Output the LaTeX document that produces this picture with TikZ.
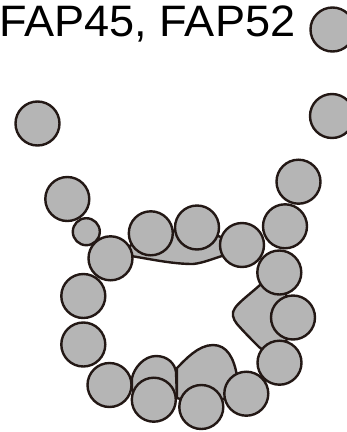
\documentclass[tikz,border=0pt]{standalone}
\usepackage{fontspec}
\setmainfont{Liberation Sans}
\definecolor{beadline}{HTML}{231815}
\definecolor{beadgray}{HTML}{B5B5B5}

\begin{document}
\begin{tikzpicture}[x=1pt, y=-1pt,
			bead/.style={circle, draw=beadline, fill=beadgray, line width=2.4pt, minimum size=#1, inner sep=0pt},
			bead/.default=44pt,
			blob/.style={draw=beadline, fill=beadgray, line width=2.4pt, line join=round}]
			%Rahmen
			\useasboundingbox (0,0) rectangle (347,432);
			%Titel
			\node[anchor=base west, inner sep=0pt, xscale=1.025, font=\fontsize{44}{44}\selectfont] (title) at (-0.8,36.5) {FAP45, FAP52};
			%Dichte unter den Kugeln
			\draw[blob] (110,258) -- (131,256) .. controls (150,259) and (172,264) .. (193,264) .. controls (203,263) and (212,259) .. (222,256) -- (242,245) -- (197,228) -- (151,233) -- cycle;
			\draw[blob] (141,396) -- (132,390) -- (132,378) .. controls (134,368) and (144,356) .. (156,356) .. controls (168,356) and (175,364) .. (176,372) -- (177,398) -- cycle;
			\draw[blob] (200,405) -- (177,398) -- (177,368) .. controls (185,360) and (198,345) .. (213,345) .. controls (227,345) and (234,358) .. (237,376) -- (240,395) -- cycle;
			\draw[blob] (279,272) -- (260,285) .. controls (250,294) and (239,302) .. (235,308) .. controls (231,313) and (233,319) .. (237,324) .. controls (244,332) and (252,340) .. (259,347) -- (280,363) -- (293,317) -- cycle;
			%Kugeln
			\foreach \name/\x/\y in {t1/332.5/29.5, t2/332/116, l1/37.5/123.5, a/67.3/199,
				c/110.5/258.3, d/150.8/233.3, e/197/227.5, f/242/245, g/298.5/181.7, h/285/226.3,
				i/279.3/272.5, j/83.3/296, k/83.3/344.5, l/109.5/385, m/153.8/399.7, n/201.3/407,
				o/246.3/393.7, p/279.5/362.7, q/293/317.5}
				\node[bead] (\name) at (\x,\y) {};
			\node[bead=27pt] (b) at (86.3,231.7) {};
		\end{tikzpicture}
\end{document}
